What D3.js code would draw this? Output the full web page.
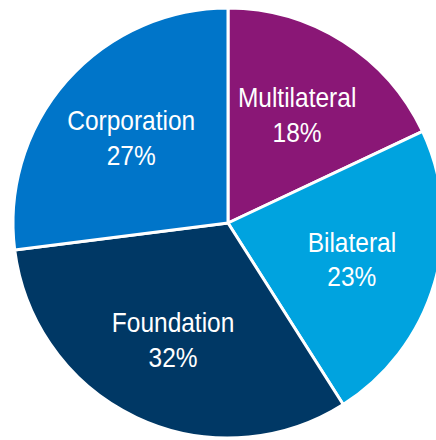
<!DOCTYPE html>
<meta charset="utf-8">
<style>
body { margin: 0; background: #fff; }
.label {
  font-family: "Liberation Sans", Arial, sans-serif;
  font-size: 28.5px;
  fill: #fff;
  text-anchor: middle;
}
</style>
<body>
<script src="https://d3js.org/d3.v7.min.js"></script>
<script>

var categories = ["Multilateral", "Bilateral", "Foundation", "Corporation"];
var shares = [18, 23, 32, 27];
var colors = ["#8a1776", "#00a3df", "#003865", "#0075c9"];

var width = 436, height = 440,
    cx = 228, cy = 223,
    radius = 215, labelRadius = 129;

var data = categories.map(function(c, i) { return {name: c, value: shares[i], color: colors[i]}; });

var svg = d3.select("body").append("svg")
    .attr("width", width)
    .attr("height", height)
  .append("g")
    .attr("transform", "translate(" + cx + "," + cy + ")");

var pie = d3.pie()
    .sort(null)
    .value(function(d) { return d.value; });

var arc = d3.arc().innerRadius(0).outerRadius(radius);
var labelArc = d3.arc().innerRadius(labelRadius).outerRadius(labelRadius);

var slices = svg.selectAll(".slice")
    .data(pie(data))
  .enter().append("g")
    .attr("class", "slice");

slices.append("path")
    .attr("d", arc)
    .style("fill", function(d) { return d.data.color; })
    .style("stroke", "#fff")
    .style("stroke-width", 3)
    .style("stroke-linejoin", "round");

// condensed look: squeeze Liberation Sans horizontally
var labels = slices.append("text")
    .attr("class", "label")
    .attr("transform", function(d) { return "translate(" + labelArc.centroid(d) + ") scale(0.86,1)"; });

labels.append("tspan")
    .attr("x", 0)
    .attr("y", -7.5)
    .text(function(d) { return d.data.name; });

labels.append("tspan")
    .attr("x", 0)
    .attr("y", 27.5)
    .text(function(d) { return d.data.value + "%"; });

</script>
